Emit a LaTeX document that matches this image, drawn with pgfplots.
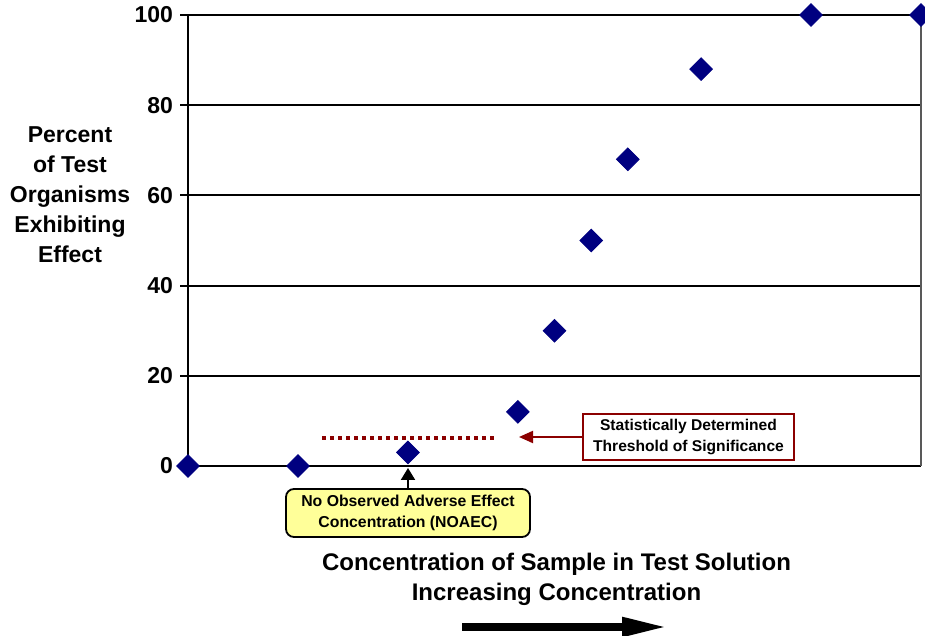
\documentclass[border=0pt]{standalone}
\usepackage{pgfplots}
\pgfplotsset{compat=1.18}
\usepackage{fontspec}
\setmainfont{Liberation Sans}
\usetikzlibrary{arrows.meta}
\definecolor{navy}{HTML}{000080}
\definecolor{darkred}{HTML}{8B0000}
\definecolor{paleyellow}{HTML}{FFFF99}

\begin{document}
\begin{tikzpicture}[x=1pt,y=1pt]
\useasboundingbox (0,0) rectangle (462.5,318);
\begin{axis}[
  at={(94pt,85pt)}, anchor=south west,
  scale only axis, width=366.5pt, height=225.5pt,
  xmin=0, xmax=20, ymin=0, ymax=100,
  xtick=\empty, ytick={0,20,...,100},
  axis line style={draw=none},
  ymajorgrids, major grid style={black, line width=1pt},
  tick align=outside, ytick pos=left, major tick length=4pt,
  y tick style={black, line width=1pt},
  yticklabel style={font=\fontsize{11.5}{13}\selectfont\bfseries},
  /pgf/number format/assume math mode=true,
  clip=false,
]
\draw[black, line width=1pt] (axis cs:0,0) -- (axis cs:0,100);
\draw[black!65, line width=1pt] (axis cs:20,0) -- (axis cs:20,100);
\draw[darkred, line width=2pt, dash pattern=on 2pt off 2pt] (axis cs:3.66,6.2) -- (axis cs:8.45,6.2);
\addplot[only marks, mark=square*, mark size=4pt,
  mark options={rotate=45, fill=navy, draw=navy}] coordinates {
  (0,0) (3,0) (6,3) (9,12) (10,30) (11,50) (12,68) (14,88) (17,100) (20,100)
};
\end{axis}

% y label
\node[align=center, font=\fontsize{11.5}{15}\selectfont\bfseries] at (35,220.5)
  {Percent\\of Test\\Organisms\\Exhibiting\\Effect};
% x label
\node[align=center, font=\fontsize{12}{15}\selectfont\bfseries] at (278.25,28.5)
  {Concentration of Sample in Test Solution\\Increasing Concentration};
\draw[line width=4pt, -{Triangle[length=23pt, width=9pt]}] (231,4.5) -- (334,4.5);

% threshold annotation
\node[draw=darkred, line width=0.8pt, fill=white, align=center,
  minimum width=105.5pt, minimum height=23pt, inner sep=1pt,
  font=\fontsize{7.8}{10.5}\selectfont\bfseries] (thr) at (344.25,99.5)
  {Statistically Determined\\Threshold of Significance};
\draw[darkred, line width=1pt, -{Triangle[length=7pt, width=6pt]}] (thr.west) -- (259.5,99.5);

% NOAEC annotation
\node[draw=black, line width=0.9pt, fill=paleyellow, rounded corners=4pt, align=center,
  minimum width=122pt, minimum height=24pt, inner sep=1pt,
  font=\fontsize{7.9}{10.5}\selectfont\bfseries] (noaec) at (204,61.5)
  {No Observed Adverse Effect\\Concentration (NOAEC)};
\draw[black, line width=1pt, -{Triangle[length=6pt, width=7pt]}] (noaec.north) -- (204,84);
\end{tikzpicture}
\end{document}
